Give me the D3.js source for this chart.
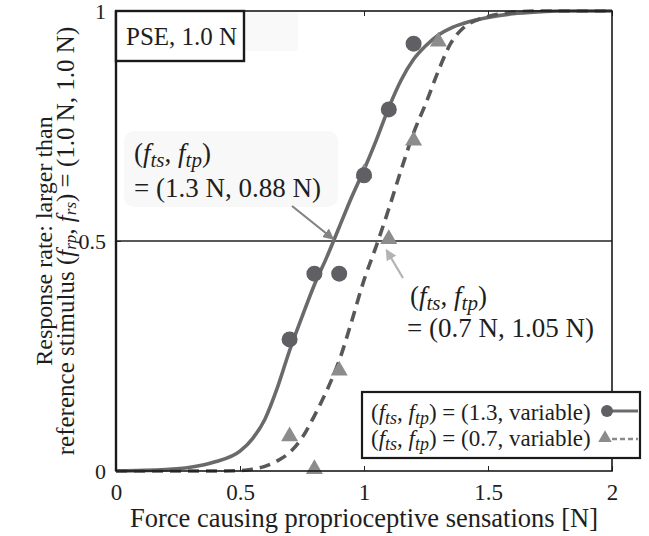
<!DOCTYPE html>
<html>
<head>
<meta charset="utf-8">
<script src="https://cdn.jsdelivr.net/npm/d3@7"></script>
<style>
  body { margin: 0; background: #fff; }
  text { font-family: "Liberation Serif", "Times New Roman", serif; fill: #1e1e1e; }
</style>
</head>
<body>
<div id="chart-container"></div>
<script>
// tick labels
const xTicks = [0, 0.5, 1, 1.5, 2];
const yTicks = [0, 0.5, 1];

// measured response rates
const circleForce = [0.7, 0.8, 0.9, 1.0, 1.1, 1.2];
const circleRate = [0.286, 0.429, 0.429, 0.643, 0.786, 0.929];
const triForce = [0.7, 0.8, 0.9, 1.0, 1.1, 1.2, 1.3];
const triRate = [0.071, 0.0, 0.214, 0.643, 0.5, 0.714, 0.929];

// fitted curves
const fitForce = [0, 0.2, 0.3, 0.4, 0.5, 0.55, 0.6, 0.65, 0.7, 0.75, 0.8, 0.85, 0.9, 0.95, 1.0,
    1.05, 1.1, 1.15, 1.2, 1.25, 1.3, 1.35, 1.4, 1.5, 1.6, 1.7, 1.8, 2.0];
const solidFit = [0, 0.003, 0.008, 0.02, 0.043, 0.07, 0.112, 0.18, 0.262, 0.335, 0.405, 0.465, 0.53, 0.595, 0.655,
    0.72, 0.79, 0.85, 0.895, 0.925, 0.948, 0.963, 0.973, 0.986, 0.994, 0.998, 1, 1];
const dashedFit = [0, 0, 0, 0, 0.001, 0.004, 0.01, 0.022, 0.04, 0.072, 0.12, 0.175, 0.24, 0.325, 0.415,
    0.49, 0.57, 0.655, 0.735, 0.8, 0.87, 0.93, 0.963, 0.988, 0.997, 1, 1, 1];

const svgWidth = 649,
    svgHeight = 536,
    margin = { top: 11, right: 37, bottom: 65, left: 116 },
    width = svgWidth - margin.left - margin.right,
    height = svgHeight - margin.top - margin.bottom;

const lineGrey = "#6a6a6c", dotGrey = "#5f5f64", triGrey = "#8c8c8c";

const root = d3.select("#chart-container").append("svg")
    .attr("width", svgWidth)
    .attr("height", svgHeight);

root.append("defs").selectAll("marker")
    .data([["arrDark", "#838383"], ["arrLight", "#b3b3b3"]])
    .join("marker")
    .attr("id", d => d[0])
    .attr("viewBox", "0 0 10 10")
    .attr("refX", 9).attr("refY", 5)
    .attr("markerWidth", 5).attr("markerHeight", 5)
    .attr("orient", "auto")
    .append("path")
    .attr("d", "M0,0L10,5L0,10z")
    .attr("fill", d => d[1]);

const svg = root.append("g")
    .attr("transform", "translate(" + margin.left + "," + margin.top + ")");

const xScale = d3.scaleLinear().domain([0, 2]).range([0, width]),
    yScale = d3.scaleLinear().domain([0, 1]).range([height, 0]);

// faint backdrops behind the labels
svg.append("rect").attr("x", 0).attr("y", 0).attr("width", 182).attr("height", 40)
    .attr("fill", "#f9f9f9");
svg.append("rect").attr("x", 8).attr("y", 120).attr("width", 214).attr("height", 76)
    .attr("rx", 10).attr("fill", "#f8f8f8");

// axes with inward ticks
svg.append("g")
    .attr("transform", "translate(0," + height + ")")
    .call(d3.axisBottom(xScale).tickValues(xTicks).tickSizeInner(-5).tickSizeOuter(0).tickPadding(13)
        .tickFormat(d3.format("")))
    .call(g => g.select(".domain").remove())
    .call(g => g.selectAll("line").attr("stroke", "#222"))
    .call(g => g.selectAll("text").attr("font-size", 23).attr("fill", "#1e1e1e").attr("dy", "0.71em"));
svg.append("g")
    .call(d3.axisTop(xScale).tickValues(xTicks).tickSizeInner(-5).tickSizeOuter(0).tickFormat(""))
    .call(g => g.select(".domain").remove())
    .call(g => g.selectAll("line").attr("stroke", "#222"));
svg.append("g")
    .call(d3.axisLeft(yScale).tickValues(yTicks).tickSizeInner(-5).tickSizeOuter(0).tickPadding(10)
        .tickFormat(d3.format("")))
    .call(g => g.select(".domain").remove())
    .call(g => g.selectAll("line").attr("stroke", "#222"))
    .call(g => g.selectAll("text").attr("font-size", 22).attr("fill", "#1e1e1e"));

// 0.5 reference line
svg.append("line")
    .attr("x1", 0).attr("x2", width)
    .attr("y1", yScale(0.5)).attr("y2", yScale(0.5))
    .attr("stroke", "#222").attr("stroke-width", 1.4);

// fitted curves
const fitLine = (vals) => d3.line()
    .x((d, i) => xScale(fitForce[i]))
    .y((d, i) => yScale(vals[i]))
    .curve(d3.curveMonotoneX)(vals);

svg.append("path")
    .attr("d", fitLine(solidFit))
    .attr("fill", "none").attr("stroke", lineGrey).attr("stroke-width", 3.6);
svg.append("path")
    .attr("d", fitLine(dashedFit))
    .attr("fill", "none").attr("stroke", "#58585a").attr("stroke-width", 3.6)
    .attr("stroke-dasharray", "11,7");

// data points
const tri = d3.symbol().type(d3.symbolTriangle).size(125);
svg.selectAll(".tri")
    .data(triForce)
    .join("path")
    .attr("class", "tri")
    .attr("d", tri)
    .attr("transform", (d, i) => "translate(" + xScale(d) + "," + (yScale(triRate[i]) - 2) + ")")
    .attr("fill", triGrey);
svg.selectAll(".dot")
    .data(circleForce)
    .join("circle")
    .attr("class", "dot")
    .attr("cx", d => xScale(d))
    .attr("cy", (d, i) => yScale(circleRate[i]))
    .attr("r", 8)
    .attr("fill", dotGrey);

// frame
svg.append("rect")
    .attr("width", width).attr("height", height)
    .attr("fill", "none").attr("stroke", "#1a1a1a").attr("stroke-width", 1.6);
svg.append("line").attr("x1", 0).attr("x2", 0).attr("y1", 0).attr("y2", height)
    .attr("stroke", "#1a1a1a").attr("stroke-width", 2.4);

// writes "(f_ts, f_tp)" into a text element
function pairLabel(t, size) {
    const sub = size * 0.78, drop = size * 0.18;
    t.append("tspan").text("(");
    t.append("tspan").attr("font-style", "italic").text("f");
    t.append("tspan").attr("font-style", "italic").attr("font-size", sub).attr("dy", drop).text("ts");
    t.append("tspan").attr("dy", -drop).text(", ");
    t.append("tspan").attr("font-style", "italic").text("f");
    t.append("tspan").attr("font-style", "italic").attr("font-size", sub).attr("dy", drop).text("tp");
    t.append("tspan").attr("dy", -drop).text(")");
}

// PSE box
svg.append("rect")
    .attr("x", 0).attr("y", 0).attr("width", 128).attr("height", 50)
    .attr("fill", "#fff").attr("stroke", "#1a1a1a").attr("stroke-width", 2.4);
svg.append("text").attr("x", 10).attr("y", 34).attr("font-size", 25).text("PSE, 1.0 N");

// annotations
const a1 = svg.append("text").attr("x", 18).attr("y", 151).attr("font-size", 27);
pairLabel(a1, 27);
svg.append("text").attr("x", 18).attr("y", 186).attr("font-size", 27).text("= (1.3 N, 0.88 N)");
svg.append("line")
    .attr("x1", 176).attr("y1", 195).attr("x2", xScale(0.88) - 1).attr("y2", yScale(0.5) - 2)
    .attr("stroke", "#838383").attr("stroke-width", 2.2).attr("marker-end", "url(#arrDark)");

const a2 = svg.append("text").attr("x", 294).attr("y", 294).attr("font-size", 27);
pairLabel(a2, 27);
svg.append("text").attr("x", 291).attr("y", 326).attr("font-size", 27).text("= (0.7 N, 1.05 N)");
svg.append("line")
    .attr("x1", 287).attr("y1", 267).attr("x2", xScale(1.05) + 10).attr("y2", yScale(0.5) + 9)
    .attr("stroke", "#b3b3b3").attr("stroke-width", 2.2).attr("marker-end", "url(#arrLight)");

// legend
const leg = svg.append("g").attr("transform", "translate(246,381)");
leg.append("rect").attr("width", 278).attr("height", 66)
    .attr("fill", "#fff").attr("stroke", "#1a1a1a").attr("stroke-width", 2.2);
const l1 = leg.append("text").attr("x", 9).attr("y", 28).attr("font-size", 23);
pairLabel(l1, 23);
l1.append("tspan").text(" = (1.3, variable)");
const l2 = leg.append("text").attr("x", 9).attr("y", 54).attr("font-size", 23);
pairLabel(l2, 23);
l2.append("tspan").text(" = (0.7, variable)");
leg.append("line").attr("x1", 245).attr("x2", 276).attr("y1", 19).attr("y2", 19)
    .attr("stroke", lineGrey).attr("stroke-width", 3);
leg.append("circle").attr("cx", 245).attr("cy", 19).attr("r", 6).attr("fill", dotGrey);
leg.append("line").attr("x1", 250).attr("x2", 276).attr("y1", 47).attr("y2", 47)
    .attr("stroke", "#8a8a8a").attr("stroke-width", 2.4).attr("stroke-dasharray", "5,3");
leg.append("path").attr("d", d3.symbol().type(d3.symbolTriangle).size(80))
    .attr("transform", "translate(243,46)").attr("fill", triGrey);

// axis titles
root.append("text")
    .attr("x", margin.left + width / 2).attr("y", 527)
    .attr("text-anchor", "middle").attr("font-size", 26.5)
    .text("Force causing proprioceptive sensations [N]");

const yt = root.append("g").attr("transform", "translate(0," + (margin.top + height / 2) + ") rotate(-90)");
yt.append("text").attr("x", 0).attr("y", 52).attr("text-anchor", "middle").attr("font-size", 24)
    .text("Response rate: larger than");
const yt2 = yt.append("text").attr("x", 0).attr("y", 74).attr("text-anchor", "middle").attr("font-size", 25);
yt2.append("tspan").text("reference stimulus (");
yt2.append("tspan").attr("font-style", "italic").text("f");
yt2.append("tspan").attr("font-style", "italic").attr("font-size", 17).attr("dy", 2).text("rp");
yt2.append("tspan").attr("dy", -2).text(", ");
yt2.append("tspan").attr("font-style", "italic").text("f");
yt2.append("tspan").attr("font-style", "italic").attr("font-size", 17).attr("dy", 2).text("rs");
yt2.append("tspan").attr("dy", -2).text(") = (1.0 N, 1.0 N)");
</script>
</body>
</html>
